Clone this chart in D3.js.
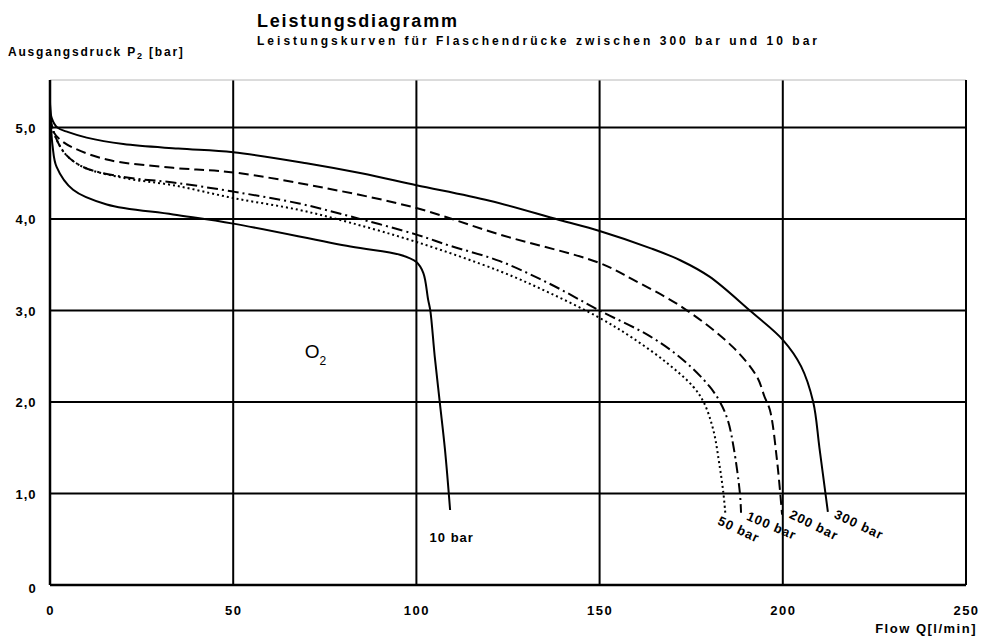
<!DOCTYPE html>
<html>
<head>
<meta charset="utf-8">
<script src="https://cdn.jsdelivr.net/npm/d3@7"></script>
<style>
  body { margin: 0; background: #ffffff; }
  text { font-family: "Liberation Sans", Arial, sans-serif; fill: #000000; }
</style>
</head>
<body>
<div id="graph-container"></div>
<script>
// values: [flow Q l/min, outlet pressure P2 bar]
const curve300 = [[0,5.25],[0.5,5.1],[2,5.0],[5,4.95],[10,4.89],[20,4.82],[35,4.77],[50,4.73],[70,4.61],[85,4.5],[100,4.37],[120,4.2],[139,3.99],[150,3.87],[164,3.68],[172,3.55],[180,3.37],[191,3.0],[200,2.68],[205,2.39],[208.3,2.0],[210,1.5],[212.3,0.8]];
const curve200 = [[0,5.12],[1,4.95],[3,4.86],[6.3,4.78],[15.5,4.65],[33.6,4.56],[50,4.51],[75,4.34],[100,4.12],[122.8,3.83],[150,3.52],[159,3.34],[172.8,3.03],[186.4,2.6],[192.9,2.28],[195,2.06],[196.5,1.91],[198.4,1.37],[199.8,0.77]];
const curve100 = [[0,5.12],[1,4.95],[4,4.72],[9,4.57],[20,4.46],[33.6,4.4],[50,4.3],[68,4.17],[81.9,4.03],[100,3.83],[109,3.71],[122.8,3.54],[136.5,3.29],[150,3.0],[163.7,2.72],[172.8,2.46],[180,2.17],[183,1.99],[185,1.8],[186.6,1.5],[188.3,1.0],[188.6,0.79]];
const curve50 = [[0,5.12],[1,4.95],[4,4.72],[9,4.57],[20,4.45],[33.6,4.37],[50,4.23],[68,4.1],[82,3.96],[100,3.75],[122.8,3.43],[136.5,3.19],[150,2.92],[159,2.7],[168.3,2.43],[175.5,2.17],[178.5,1.99],[181,1.7],[182.8,1.29],[183.8,1.0],[184.3,0.79]];
const curve10 = [[0,5.28],[0.3,5.0],[0.7,4.8],[1.8,4.57],[6.3,4.32],[15.5,4.16],[33.6,4.05],[50,3.95],[82,3.7],[95.5,3.61],[100,3.53],[101.9,3.41],[103.2,3.12],[103.8,3.0],[105,2.5],[106.4,1.99],[107.8,1.48],[109.2,0.82]];

const curveNames = ["300 bar", "200 bar", "100 bar", "50 bar", "10 bar"];
const xTicks = [0, 50, 100, 150, 200, 250];
const yTicks = [0, 1, 2, 3, 4, 5];
const yTickLabels = ["0", "1,0", "2,0", "3,0", "4,0", "5,0"];

const titleText = "Leistungsdiagramm";
const subtitleText = "Leistungskurven für Flaschendrücke zwischen 300 bar und 10 bar";

const W = 993, H = 639;
const margin = { top: 80, right: 27, bottom: 54, left: 50 };

const svg = d3.select("#graph-container")
    .append("svg")
    .attr("width", W)
    .attr("height", H);

const xScale = d3.scaleLinear().domain([0, 250]).range([margin.left, W - margin.right]);
const yScale = d3.scaleLinear().domain([0, 5.52]).range([H - margin.bottom, margin.top]);

// grid
const grid = svg.append("g");
grid.selectAll(".vgrid")
    .data(xTicks.slice(1, -1))
    .enter().append("line")
    .attr("x1", d => xScale(d)).attr("x2", d => xScale(d))
    .attr("y1", yScale.range()[1]).attr("y2", yScale(0))
    .style("stroke", "#000").style("stroke-width", 2);
grid.selectAll(".hgrid")
    .data(yTicks.slice(1))
    .enter().append("line")
    .attr("x1", xScale(0)).attr("x2", xScale(250))
    .attr("y1", d => yScale(d)).attr("y2", d => yScale(d))
    .style("stroke", "#000").style("stroke-width", 2);

// frame
svg.append("line")
    .attr("x1", xScale(0)).attr("x2", xScale(250))
    .attr("y1", yScale.range()[1]).attr("y2", yScale.range()[1])
    .style("stroke", "#b8b8b8").style("stroke-width", 1);
svg.append("line")
    .attr("x1", xScale(250)).attr("x2", xScale(250))
    .attr("y1", yScale.range()[1]).attr("y2", yScale(0))
    .style("stroke", "#000").style("stroke-width", 2);

// axes
const xaxis = d3.axisBottom(xScale).tickValues(xTicks).tickSize(0).tickFormat(d3.format("d"));
const yaxis = d3.axisLeft(yScale).tickValues(yTicks).tickSize(0).tickFormat((d, i) => yTickLabels[i]);

svg.append("g")
    .attr("class", "x-axis")
    .attr("transform", `translate(0, ${yScale(0)})`)
    .call(xaxis)
    .selectAll("text")
    .attr("dy", "2.1em")
    .style("font-size", "13px")
    .style("font-weight", "bold")
    .style("letter-spacing", "1.5px")
    .style("font-family", '"Liberation Sans", Arial, sans-serif');

svg.append("g")
    .attr("class", "y-axis")
    .attr("transform", `translate(${xScale(0)}, 0)`)
    .call(yaxis)
    .selectAll("text")
    .attr("dx", "-0.8em")
    .attr("dy", d => d === 0 ? "0.6em" : "0.35em")
    .style("font-size", "13px")
    .style("font-weight", "bold")
    .style("letter-spacing", "1px")
    .style("font-family", '"Liberation Sans", Arial, sans-serif');

svg.selectAll(".x-axis path, .y-axis path")
    .style("stroke", "#000")
    .style("stroke-width", 2.5);
svg.select(".y-axis path").attr("d", `M0,${yScale(0)}V${yScale.range()[1]}`);
svg.select(".x-axis path").attr("d", `M${xScale(0)},0H${xScale(250)}`);

// curves
const line = d3.line()
    .x(d => xScale(d[0]))
    .y(d => yScale(d[1]))
    .curve(d3.curveCatmullRom.alpha(0.5));

const series = [
    { data: curve300, dash: null },
    { data: curve200, dash: "10,5" },
    { data: curve100, dash: "11,4,2,4" },
    { data: curve50, dash: "2,3" },
    { data: curve10, dash: null }
];

svg.selectAll(".curve")
    .data(series)
    .enter().append("path")
    .attr("class", "curve")
    .attr("d", d => line(d.data))
    .style("fill", "none")
    .style("stroke", "#000")
    .style("stroke-width", 2)
    .style("stroke-dasharray", d => d.dash);

// curve labels (angled ones below the ends)
const labelPos = [
    { x: 215.0, y: 0.84, rot: 25 },
    { x: 202.8, y: 0.84, rot: 26 },
    { x: 191.0, y: 0.82, rot: 23 },
    { x: 183.2, y: 0.77, rot: 25 },
    { x: 103.6, y: 0.58, rot: 0 }
];
svg.selectAll(".clabel")
    .data(curveNames)
    .enter().append("text")
    .attr("class", "clabel")
    .attr("transform", (d, i) => `translate(${xScale(labelPos[i].x)}, ${yScale(labelPos[i].y)}) rotate(${labelPos[i].rot})`)
    .attr("dy", "0.8em")
    .style("font-size", "13px")
    .style("font-weight", "bold")
    .style("letter-spacing", "1px")
    .text(d => d);

// O2
const o2 = svg.append("text")
    .attr("x", xScale(69.5)).attr("y", yScale(2.48))
    .style("font-size", "19px");
o2.append("tspan").text("O");
o2.append("tspan").attr("dy", 7).style("font-size", "12px").text("2");

// titles
svg.append("text")
    .attr("x", 257).attr("y", 27)
    .attr("textLength", 200)
    .style("font-size", "18px").style("font-weight", "bold")
    .text(titleText);
svg.append("text")
    .attr("x", 257).attr("y", 45)
    .attr("textLength", 560)
    .attr("lengthAdjust", "spacing")
    .style("font-size", "12px").style("font-weight", "bold")
    .text(subtitleText);

const ylab = svg.append("text")
    .attr("x", 8).attr("y", 56)
    .style("font-size", "12px").style("font-weight", "bold")
    .style("letter-spacing", "1.8px");
ylab.append("tspan").text("Ausgangsdruck P");
ylab.append("tspan").attr("dy", 3).style("font-size", "9px").text("2");
ylab.append("tspan").attr("dy", -3).text(" [bar]");

svg.append("text")
    .attr("x", 977).attr("y", 633)
    .attr("text-anchor", "end")
    .style("font-size", "13px").style("font-weight", "bold")
    .style("letter-spacing", "1.5px")
    .text("Flow Q[l/min]");
</script>
</body>
</html>
